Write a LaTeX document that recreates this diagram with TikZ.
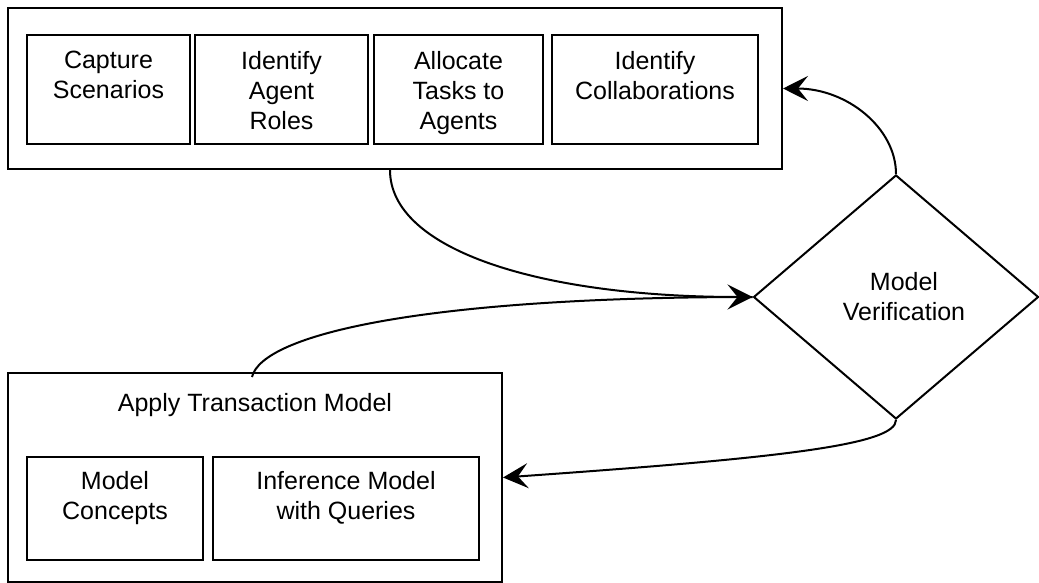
\documentclass[tikz,border=0pt]{standalone}
\usepackage{fontspec}
\setmainfont{Liberation Sans}
\usetikzlibrary{shapes.geometric,arrows.meta}
\begin{document}
\begin{tikzpicture}[x=1pt,y=-1pt,
  box/.style={draw, line width=2pt, inner sep=0pt},
  lab/.style={font=\fontsize{25}{30}\selectfont, align=center, inner sep=0pt},
  conn/.style={line width=2pt},
  arr/.style={conn, -{Stealth[length=25pt,width=25pt,inset=10pt]}}]
\useasboundingbox (0,0) rectangle (1039,583);
% top group
\node[box, minimum width=774pt, minimum height=161pt] (top) at (395,88.5) {};
\node[box, minimum width=163pt, minimum height=109pt] (cap) at (108.5,89.5) {};
\node[box, minimum width=173pt, minimum height=109pt] (roles) at (281.5,89.5) {};
\node[box, minimum width=169pt, minimum height=109pt] (alloc) at (458.5,89.5) {};
\node[box, minimum width=206pt, minimum height=109pt] (collab) at (655,89.5) {};
\node[lab, anchor=north] (capT) at ([yshift=-17pt]cap.north) {Capture\\Scenarios};
\node[lab, anchor=north] (rolesT) at ([yshift=-17pt]roles.north) {Identify\\Agent\\Roles};
\node[lab, anchor=north] (allocT) at ([yshift=-17pt]alloc.north) {Allocate\\Tasks to\\Agents};
\node[lab, anchor=north] (collabT) at ([yshift=-17pt]collab.north) {Identify\\Collaborations};
% bottom group
\node[box, minimum width=494pt, minimum height=209pt] (bot) at (255,477.5) {};
\node[lab, anchor=north] (botT) at ([yshift=-21pt]bot.north) {Apply Transaction Model};
\node[box, minimum width=176pt, minimum height=103pt] (conc) at (115,508.5) {};
\node[box, minimum width=266pt, minimum height=103pt] (infer) at (346,508.5) {};
\node[lab, anchor=north] (concT) at ([yshift=-15pt]conc.north) {Model\\Concepts};
\node[lab, anchor=north] (inferT) at ([yshift=-15pt]infer.north) {Inference Model\\with Queries};
% diamond
\node[draw, line width=2pt, diamond, minimum width=285pt, minimum height=244pt, inner sep=0pt] (ver) at (896,297) {};
\node[lab] (verT) at (904,297) {Model\\Verification};
% connectors
\draw[arr] (ver.north) .. controls (896,128) and (847,88.5) .. (top.east);
\draw[arr] ([xshift=-5pt]top.south) .. controls (390,250) and (540,297) .. (ver.west);
\draw[conn] ([xshift=-3pt,yshift=-5pt]bot.north) .. controls (262,335) and (420,297) .. (ver.west);
\draw[arr] (ver.south) .. controls (896,445) and (780,458) .. (bot.east);
\end{tikzpicture}
\end{document}
